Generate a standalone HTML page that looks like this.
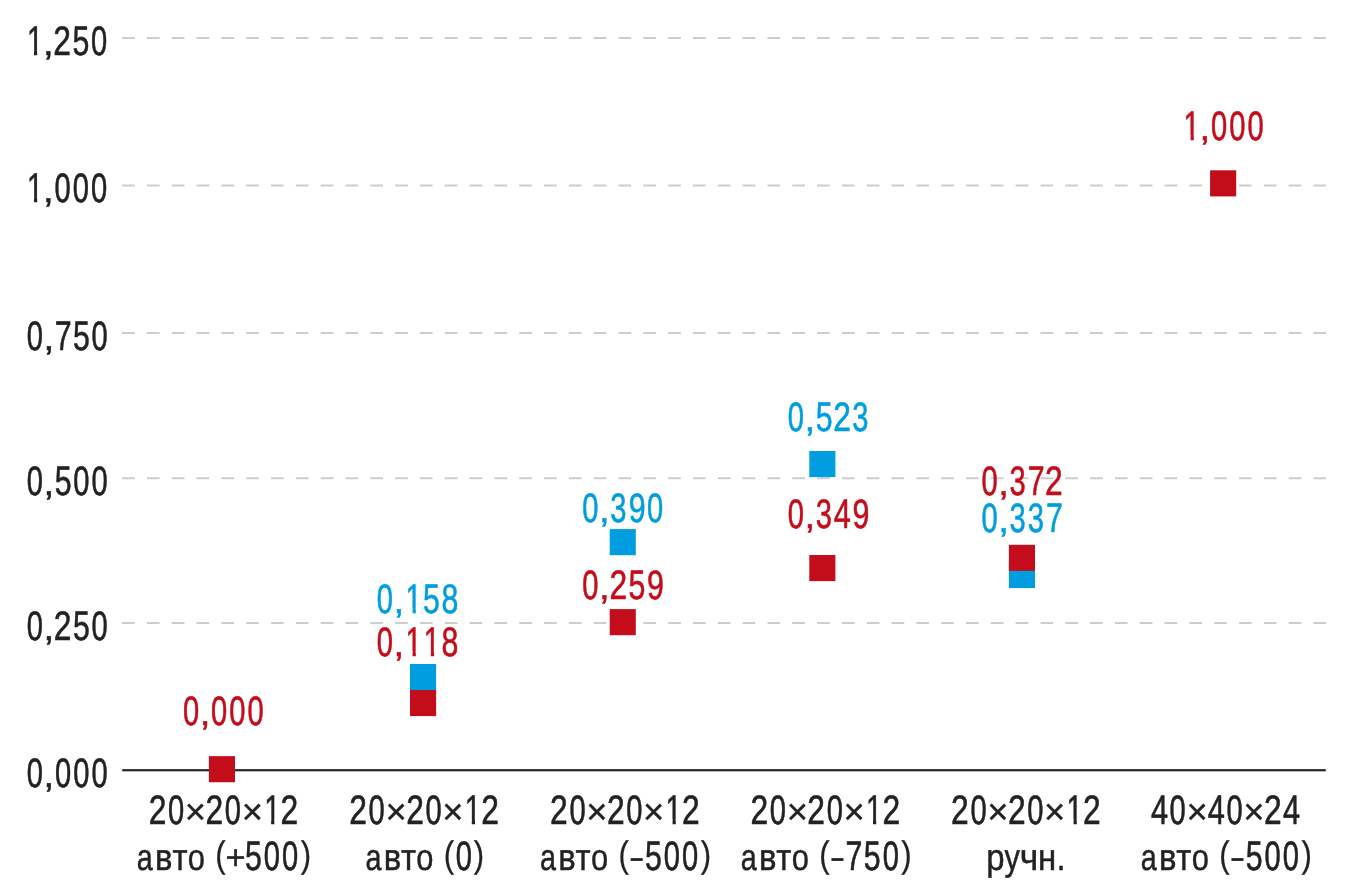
<!DOCTYPE html><html><head><meta charset="utf-8"><style>html,body{margin:0;padding:0;background:#fff;overflow:hidden}svg{display:block}text{font-family:"Liberation Sans",sans-serif;stroke-linejoin:miter;text-rendering:geometricPrecision}</style></head><body><svg style="will-change:transform" width="1350" height="892" viewBox="0 0 1350 892"><defs><clipPath id="c1"><rect x="0" y="-41.25" width="15.03" height="36.25"/><rect x="9.91" y="-5.5" width="4.51" height="8"/></clipPath></defs><line x1="122.1" x2="1326" y1="38" y2="38" stroke="#cdcdcd" stroke-width="2" stroke-dasharray="12.7 12.12"/><line x1="122.1" x2="1326" y1="185.5" y2="185.5" stroke="#cdcdcd" stroke-width="2" stroke-dasharray="12.7 12.12"/><line x1="122.1" x2="1326" y1="333" y2="333" stroke="#cdcdcd" stroke-width="2" stroke-dasharray="12.7 12.12"/><line x1="122.1" x2="1326" y1="478.15" y2="478.15" stroke="#cdcdcd" stroke-width="2" stroke-dasharray="12.7 12.12"/><line x1="122.1" x2="1326" y1="623.1" y2="623.1" stroke="#cdcdcd" stroke-width="2" stroke-dasharray="12.7 12.12"/><rect x="122.2" y="769.15" width="1203.6" height="2.15" fill="#222222"/><rect x="410" y="664" width="26.1" height="26.1" fill="#009de0"/><rect x="410" y="690" width="26.1" height="26.1" fill="#c30d1a"/><rect x="609.7" y="529.1" width="26.1" height="26.1" fill="#009de0"/><rect x="609.7" y="609.1" width="26.1" height="26.1" fill="#c30d1a"/><rect x="809.3" y="451.0" width="26.1" height="26.1" fill="#009de0"/><rect x="809.3" y="555.0" width="26.1" height="26.1" fill="#c30d1a"/><rect x="1008.9" y="562" width="26.1" height="26.1" fill="#009de0"/><rect x="1008.9" y="544.8" width="26.1" height="26.1" fill="#c30d1a"/><rect x="208.9" y="756.15" width="26.1" height="26.1" fill="#c30d1a"/><rect x="1210.1" y="170.3" width="26.1" height="26.1" fill="#c30d1a"/><g><text transform="translate(27.02,55.00) scale(0.705,1)" x="0.00" y="0" font-size="41.25" fill="#222222" stroke="#222222" stroke-width="0.6" vector-effect="non-scaling-stroke" clip-path="url(#c1)">1</text><text transform="translate(42.99,55.00) scale(0.93,0.85)" x="0.00" y="0" font-size="41.25" fill="#222222" stroke="#222222" stroke-width="0.6" vector-effect="non-scaling-stroke">,</text><text transform="translate(53.37,55.00) scale(0.77,1)" x="0.00" y="0" font-size="41.25" fill="#222222" stroke="#222222" stroke-width="0.6" vector-effect="non-scaling-stroke">2</text><text transform="translate(72.53,55.00) scale(0.735,1)" x="0.00" y="0" font-size="41.25" fill="#222222" stroke="#222222" stroke-width="0.6" vector-effect="non-scaling-stroke">5</text><text transform="translate(90.91,55.00) scale(0.705,1)" x="0.00" y="0" font-size="41.25" fill="#222222" stroke="#222222" stroke-width="0.6" vector-effect="non-scaling-stroke">0</text></g>
<g><text transform="translate(27.02,202.00) scale(0.705,1)" x="0.00" y="0" font-size="41.25" fill="#222222" stroke="#222222" stroke-width="0.6" vector-effect="non-scaling-stroke" clip-path="url(#c1)">1</text><text transform="translate(42.99,202.00) scale(0.93,0.85)" x="0.00" y="0" font-size="41.25" fill="#222222" stroke="#222222" stroke-width="0.6" vector-effect="non-scaling-stroke">,</text><text transform="translate(54.41,202.00) scale(0.705,1)" x="0.00 25.89 51.77" y="0" font-size="41.25" fill="#222222" stroke="#222222" stroke-width="0.6" vector-effect="non-scaling-stroke">000</text></g>
<g><text transform="translate(26.75,350.00) scale(0.705,1)" x="0.00" y="0" font-size="41.25" fill="#222222" stroke="#222222" stroke-width="0.6" vector-effect="non-scaling-stroke">0</text><text transform="translate(43.48,350.00) scale(0.93,0.85)" x="0.00" y="0" font-size="41.25" fill="#222222" stroke="#222222" stroke-width="0.6" vector-effect="non-scaling-stroke">,</text><text transform="translate(54.73,350.00) scale(0.735,1)" x="0.00 24.89" y="0" font-size="41.25" fill="#222222" stroke="#222222" stroke-width="0.6" vector-effect="non-scaling-stroke">75</text><text transform="translate(91.40,350.00) scale(0.705,1)" x="0.00" y="0" font-size="41.25" fill="#222222" stroke="#222222" stroke-width="0.6" vector-effect="non-scaling-stroke">0</text></g>
<g><text transform="translate(26.75,495.00) scale(0.705,1)" x="0.00" y="0" font-size="41.25" fill="#222222" stroke="#222222" stroke-width="0.6" vector-effect="non-scaling-stroke">0</text><text transform="translate(43.48,495.00) scale(0.93,0.85)" x="0.00" y="0" font-size="41.25" fill="#222222" stroke="#222222" stroke-width="0.6" vector-effect="non-scaling-stroke">,</text><text transform="translate(54.77,495.00) scale(0.735,1)" x="0.00" y="0" font-size="41.25" fill="#222222" stroke="#222222" stroke-width="0.6" vector-effect="non-scaling-stroke">5</text><text transform="translate(73.15,495.00) scale(0.705,1)" x="0.00 25.89" y="0" font-size="41.25" fill="#222222" stroke="#222222" stroke-width="0.6" vector-effect="non-scaling-stroke">00</text></g>
<g><text transform="translate(26.75,640.00) scale(0.705,1)" x="0.00" y="0" font-size="41.25" fill="#222222" stroke="#222222" stroke-width="0.6" vector-effect="non-scaling-stroke">0</text><text transform="translate(43.48,640.00) scale(0.93,0.85)" x="0.00" y="0" font-size="41.25" fill="#222222" stroke="#222222" stroke-width="0.6" vector-effect="non-scaling-stroke">,</text><text transform="translate(53.86,640.00) scale(0.77,1)" x="0.00" y="0" font-size="41.25" fill="#222222" stroke="#222222" stroke-width="0.6" vector-effect="non-scaling-stroke">2</text><text transform="translate(73.02,640.00) scale(0.735,1)" x="0.00" y="0" font-size="41.25" fill="#222222" stroke="#222222" stroke-width="0.6" vector-effect="non-scaling-stroke">5</text><text transform="translate(91.40,640.00) scale(0.705,1)" x="0.00" y="0" font-size="41.25" fill="#222222" stroke="#222222" stroke-width="0.6" vector-effect="non-scaling-stroke">0</text></g>
<g><text transform="translate(26.75,787.00) scale(0.705,1)" x="0.00" y="0" font-size="41.25" fill="#222222" stroke="#222222" stroke-width="0.6" vector-effect="non-scaling-stroke">0</text><text transform="translate(43.48,787.00) scale(0.93,0.85)" x="0.00" y="0" font-size="41.25" fill="#222222" stroke="#222222" stroke-width="0.6" vector-effect="non-scaling-stroke">,</text><text transform="translate(54.90,787.00) scale(0.705,1)" x="0.00 25.89 51.77" y="0" font-size="41.25" fill="#222222" stroke="#222222" stroke-width="0.6" vector-effect="non-scaling-stroke">000</text></g>
<g><text transform="translate(182.91,725.00) scale(0.705,1)" x="0.00" y="0" font-size="41.25" fill="#c30d1a" stroke="#c30d1a" stroke-width="0.6" vector-effect="non-scaling-stroke">0</text><text transform="translate(199.64,725.00) scale(0.93,0.85)" x="0.00" y="0" font-size="41.25" fill="#c30d1a" stroke="#c30d1a" stroke-width="0.6" vector-effect="non-scaling-stroke">,</text><text transform="translate(211.06,725.00) scale(0.705,1)" x="0.00 25.89 51.77" y="0" font-size="41.25" fill="#c30d1a" stroke="#c30d1a" stroke-width="0.6" vector-effect="non-scaling-stroke">000</text></g>
<g><text transform="translate(376.71,613.00) scale(0.705,1)" x="0.00" y="0" font-size="41.25" fill="#009de0" stroke="#009de0" stroke-width="0.6" vector-effect="non-scaling-stroke">0</text><text transform="translate(393.44,613.00) scale(0.93,0.85)" x="0.00" y="0" font-size="41.25" fill="#009de0" stroke="#009de0" stroke-width="0.6" vector-effect="non-scaling-stroke">,</text><text transform="translate(405.62,613.00) scale(0.705,1)" x="0.00" y="0" font-size="41.25" fill="#009de0" stroke="#009de0" stroke-width="0.6" vector-effect="non-scaling-stroke" clip-path="url(#c1)">1</text><text transform="translate(422.98,613.00) scale(0.735,1)" x="0.00 25.12" y="0" font-size="41.25" fill="#009de0" stroke="#009de0" stroke-width="0.6" vector-effect="non-scaling-stroke">58</text></g>
<g><text transform="translate(376.71,656.00) scale(0.705,1)" x="0.00" y="0" font-size="41.25" fill="#c30d1a" stroke="#c30d1a" stroke-width="0.6" vector-effect="non-scaling-stroke">0</text><text transform="translate(393.44,656.00) scale(0.93,0.85)" x="0.00" y="0" font-size="41.25" fill="#c30d1a" stroke="#c30d1a" stroke-width="0.6" vector-effect="non-scaling-stroke">,</text><text transform="translate(405.62,656.00) scale(0.705,1)" x="0.00" y="0" font-size="41.25" fill="#c30d1a" stroke="#c30d1a" stroke-width="0.6" vector-effect="non-scaling-stroke" clip-path="url(#c1)">1</text><text transform="translate(423.87,656.00) scale(0.705,1)" x="0.00" y="0" font-size="41.25" fill="#c30d1a" stroke="#c30d1a" stroke-width="0.6" vector-effect="non-scaling-stroke" clip-path="url(#c1)">1</text><text transform="translate(441.44,656.00) scale(0.735,1)" x="0.00" y="0" font-size="41.25" fill="#c30d1a" stroke="#c30d1a" stroke-width="0.6" vector-effect="non-scaling-stroke">8</text></g>
<g><text transform="translate(582.31,522.00) scale(0.705,1)" x="0.00" y="0" font-size="41.25" fill="#009de0" stroke="#009de0" stroke-width="0.6" vector-effect="non-scaling-stroke">0</text><text transform="translate(599.04,522.00) scale(0.93,0.85)" x="0.00" y="0" font-size="41.25" fill="#009de0" stroke="#009de0" stroke-width="0.6" vector-effect="non-scaling-stroke">,</text><text transform="translate(610.37,522.00) scale(0.705,1)" x="0.00" y="0" font-size="41.25" fill="#009de0" stroke="#009de0" stroke-width="0.6" vector-effect="non-scaling-stroke">3</text><text transform="translate(628.79,522.00) scale(0.735,1)" x="0.00" y="0" font-size="41.25" fill="#009de0" stroke="#009de0" stroke-width="0.6" vector-effect="non-scaling-stroke">9</text><text transform="translate(646.96,522.00) scale(0.705,1)" x="0.00" y="0" font-size="41.25" fill="#009de0" stroke="#009de0" stroke-width="0.6" vector-effect="non-scaling-stroke">0</text></g>
<g><text transform="translate(582.31,599.00) scale(0.705,1)" x="0.00" y="0" font-size="41.25" fill="#c30d1a" stroke="#c30d1a" stroke-width="0.6" vector-effect="non-scaling-stroke">0</text><text transform="translate(599.04,599.00) scale(0.93,0.85)" x="0.00" y="0" font-size="41.25" fill="#c30d1a" stroke="#c30d1a" stroke-width="0.6" vector-effect="non-scaling-stroke">,</text><text transform="translate(609.42,599.00) scale(0.77,1)" x="0.00" y="0" font-size="41.25" fill="#c30d1a" stroke="#c30d1a" stroke-width="0.6" vector-effect="non-scaling-stroke">2</text><text transform="translate(628.58,599.00) scale(0.735,1)" x="0.00 25.12" y="0" font-size="41.25" fill="#c30d1a" stroke="#c30d1a" stroke-width="0.6" vector-effect="non-scaling-stroke">59</text></g>
<g><text transform="translate(787.81,431.00) scale(0.705,1)" x="0.00" y="0" font-size="41.25" fill="#009de0" stroke="#009de0" stroke-width="0.6" vector-effect="non-scaling-stroke">0</text><text transform="translate(804.54,431.00) scale(0.93,0.85)" x="0.00" y="0" font-size="41.25" fill="#009de0" stroke="#009de0" stroke-width="0.6" vector-effect="non-scaling-stroke">,</text><text transform="translate(815.83,431.00) scale(0.735,1)" x="0.00" y="0" font-size="41.25" fill="#009de0" stroke="#009de0" stroke-width="0.6" vector-effect="non-scaling-stroke">5</text><text transform="translate(833.17,431.00) scale(0.77,1)" x="0.00" y="0" font-size="41.25" fill="#009de0" stroke="#009de0" stroke-width="0.6" vector-effect="non-scaling-stroke">2</text><text transform="translate(852.37,431.00) scale(0.705,1)" x="0.00" y="0" font-size="41.25" fill="#009de0" stroke="#009de0" stroke-width="0.6" vector-effect="non-scaling-stroke">3</text></g>
<g><text transform="translate(787.81,528.00) scale(0.705,1)" x="0.00" y="0" font-size="41.25" fill="#c30d1a" stroke="#c30d1a" stroke-width="0.6" vector-effect="non-scaling-stroke">0</text><text transform="translate(804.54,528.00) scale(0.93,0.85)" x="0.00" y="0" font-size="41.25" fill="#c30d1a" stroke="#c30d1a" stroke-width="0.6" vector-effect="non-scaling-stroke">,</text><text transform="translate(815.87,528.00) scale(0.705,1)" x="0.00" y="0" font-size="41.25" fill="#c30d1a" stroke="#c30d1a" stroke-width="0.6" vector-effect="non-scaling-stroke">3</text><text transform="translate(833.79,528.00) scale(0.745,1)" x="0.00" y="0" font-size="41.25" fill="#c30d1a" stroke="#c30d1a" stroke-width="0.6" vector-effect="non-scaling-stroke">4</text><text transform="translate(852.54,528.00) scale(0.735,1)" x="0.00" y="0" font-size="41.25" fill="#c30d1a" stroke="#c30d1a" stroke-width="0.6" vector-effect="non-scaling-stroke">9</text></g>
<g><text transform="translate(981.41,495.00) scale(0.705,1)" x="0.00" y="0" font-size="41.25" fill="#c30d1a" stroke="#c30d1a" stroke-width="0.6" vector-effect="non-scaling-stroke">0</text><text transform="translate(998.14,495.00) scale(0.93,0.85)" x="0.00" y="0" font-size="41.25" fill="#c30d1a" stroke="#c30d1a" stroke-width="0.6" vector-effect="non-scaling-stroke">,</text><text transform="translate(1009.47,495.00) scale(0.705,1)" x="0.00" y="0" font-size="41.25" fill="#c30d1a" stroke="#c30d1a" stroke-width="0.6" vector-effect="non-scaling-stroke">3</text><text transform="translate(1027.64,495.00) scale(0.735,1)" x="0.00" y="0" font-size="41.25" fill="#c30d1a" stroke="#c30d1a" stroke-width="0.6" vector-effect="non-scaling-stroke">7</text><text transform="translate(1045.02,495.00) scale(0.77,1)" x="0.00" y="0" font-size="41.25" fill="#c30d1a" stroke="#c30d1a" stroke-width="0.6" vector-effect="non-scaling-stroke">2</text></g>
<g><text transform="translate(981.41,532.00) scale(0.705,1)" x="0.00" y="0" font-size="41.25" fill="#009de0" stroke="#009de0" stroke-width="0.6" vector-effect="non-scaling-stroke">0</text><text transform="translate(998.14,532.00) scale(0.93,0.85)" x="0.00" y="0" font-size="41.25" fill="#009de0" stroke="#009de0" stroke-width="0.6" vector-effect="non-scaling-stroke">,</text><text transform="translate(1009.47,532.00) scale(0.705,1)" x="0.00 25.89" y="0" font-size="41.25" fill="#009de0" stroke="#009de0" stroke-width="0.6" vector-effect="non-scaling-stroke">33</text><text transform="translate(1045.89,532.00) scale(0.735,1)" x="0.00" y="0" font-size="41.25" fill="#009de0" stroke="#009de0" stroke-width="0.6" vector-effect="non-scaling-stroke">7</text></g>
<g><text transform="translate(1183.62,140.00) scale(0.705,1)" x="0.00" y="0" font-size="41.25" fill="#c30d1a" stroke="#c30d1a" stroke-width="0.6" vector-effect="non-scaling-stroke" clip-path="url(#c1)">1</text><text transform="translate(1199.59,140.00) scale(0.93,0.85)" x="0.00" y="0" font-size="41.25" fill="#c30d1a" stroke="#c30d1a" stroke-width="0.6" vector-effect="non-scaling-stroke">,</text><text transform="translate(1211.01,140.00) scale(0.705,1)" x="0.00 25.89 51.77" y="0" font-size="41.25" fill="#c30d1a" stroke="#c30d1a" stroke-width="0.6" vector-effect="non-scaling-stroke">000</text></g>
<g><text transform="translate(148.63,824.00) scale(0.77,1)" x="0.00" y="0" font-size="41.25" fill="#222222" stroke="#222222" stroke-width="0.6" vector-effect="non-scaling-stroke">2</text><text transform="translate(167.92,824.00) scale(0.705,1)" x="0.00" y="0" font-size="41.25" fill="#222222" stroke="#222222" stroke-width="0.6" vector-effect="non-scaling-stroke">0</text><text transform="translate(184.80,824.00) scale(1.0,1)" x="0.00" y="0" font-size="36.4" fill="#222222" stroke="#222222" stroke-width="0.35" vector-effect="non-scaling-stroke">×</text><text transform="translate(205.49,824.00) scale(0.77,1)" x="0.00" y="0" font-size="41.25" fill="#222222" stroke="#222222" stroke-width="0.6" vector-effect="non-scaling-stroke">2</text><text transform="translate(224.78,824.00) scale(0.705,1)" x="0.00" y="0" font-size="41.25" fill="#222222" stroke="#222222" stroke-width="0.6" vector-effect="non-scaling-stroke">0</text><text transform="translate(241.66,824.00) scale(1.0,1)" x="0.00" y="0" font-size="36.4" fill="#222222" stroke="#222222" stroke-width="0.35" vector-effect="non-scaling-stroke">×</text><text transform="translate(264.15,824.00) scale(0.705,1)" x="0.00" y="0" font-size="41.25" fill="#222222" stroke="#222222" stroke-width="0.6" vector-effect="non-scaling-stroke" clip-path="url(#c1)">1</text><text transform="translate(280.60,824.00) scale(0.77,1)" x="0.00" y="0" font-size="41.25" fill="#222222" stroke="#222222" stroke-width="0.6" vector-effect="non-scaling-stroke">2</text></g>
<g><text transform="translate(349.29,824.00) scale(0.77,1)" x="0.00" y="0" font-size="41.25" fill="#222222" stroke="#222222" stroke-width="0.6" vector-effect="non-scaling-stroke">2</text><text transform="translate(368.58,824.00) scale(0.705,1)" x="0.00" y="0" font-size="41.25" fill="#222222" stroke="#222222" stroke-width="0.6" vector-effect="non-scaling-stroke">0</text><text transform="translate(385.46,824.00) scale(1.0,1)" x="0.00" y="0" font-size="36.4" fill="#222222" stroke="#222222" stroke-width="0.35" vector-effect="non-scaling-stroke">×</text><text transform="translate(406.15,824.00) scale(0.77,1)" x="0.00" y="0" font-size="41.25" fill="#222222" stroke="#222222" stroke-width="0.6" vector-effect="non-scaling-stroke">2</text><text transform="translate(425.44,824.00) scale(0.705,1)" x="0.00" y="0" font-size="41.25" fill="#222222" stroke="#222222" stroke-width="0.6" vector-effect="non-scaling-stroke">0</text><text transform="translate(442.32,824.00) scale(1.0,1)" x="0.00" y="0" font-size="36.4" fill="#222222" stroke="#222222" stroke-width="0.35" vector-effect="non-scaling-stroke">×</text><text transform="translate(464.81,824.00) scale(0.705,1)" x="0.00" y="0" font-size="41.25" fill="#222222" stroke="#222222" stroke-width="0.6" vector-effect="non-scaling-stroke" clip-path="url(#c1)">1</text><text transform="translate(481.26,824.00) scale(0.77,1)" x="0.00" y="0" font-size="41.25" fill="#222222" stroke="#222222" stroke-width="0.6" vector-effect="non-scaling-stroke">2</text></g>
<g><text transform="translate(550.09,824.00) scale(0.77,1)" x="0.00" y="0" font-size="41.25" fill="#222222" stroke="#222222" stroke-width="0.6" vector-effect="non-scaling-stroke">2</text><text transform="translate(569.38,824.00) scale(0.705,1)" x="0.00" y="0" font-size="41.25" fill="#222222" stroke="#222222" stroke-width="0.6" vector-effect="non-scaling-stroke">0</text><text transform="translate(586.26,824.00) scale(1.0,1)" x="0.00" y="0" font-size="36.4" fill="#222222" stroke="#222222" stroke-width="0.35" vector-effect="non-scaling-stroke">×</text><text transform="translate(606.95,824.00) scale(0.77,1)" x="0.00" y="0" font-size="41.25" fill="#222222" stroke="#222222" stroke-width="0.6" vector-effect="non-scaling-stroke">2</text><text transform="translate(626.24,824.00) scale(0.705,1)" x="0.00" y="0" font-size="41.25" fill="#222222" stroke="#222222" stroke-width="0.6" vector-effect="non-scaling-stroke">0</text><text transform="translate(643.12,824.00) scale(1.0,1)" x="0.00" y="0" font-size="36.4" fill="#222222" stroke="#222222" stroke-width="0.35" vector-effect="non-scaling-stroke">×</text><text transform="translate(665.61,824.00) scale(0.705,1)" x="0.00" y="0" font-size="41.25" fill="#222222" stroke="#222222" stroke-width="0.6" vector-effect="non-scaling-stroke" clip-path="url(#c1)">1</text><text transform="translate(682.06,824.00) scale(0.77,1)" x="0.00" y="0" font-size="41.25" fill="#222222" stroke="#222222" stroke-width="0.6" vector-effect="non-scaling-stroke">2</text></g>
<g><text transform="translate(750.49,824.00) scale(0.77,1)" x="0.00" y="0" font-size="41.25" fill="#222222" stroke="#222222" stroke-width="0.6" vector-effect="non-scaling-stroke">2</text><text transform="translate(769.78,824.00) scale(0.705,1)" x="0.00" y="0" font-size="41.25" fill="#222222" stroke="#222222" stroke-width="0.6" vector-effect="non-scaling-stroke">0</text><text transform="translate(786.66,824.00) scale(1.0,1)" x="0.00" y="0" font-size="36.4" fill="#222222" stroke="#222222" stroke-width="0.35" vector-effect="non-scaling-stroke">×</text><text transform="translate(807.35,824.00) scale(0.77,1)" x="0.00" y="0" font-size="41.25" fill="#222222" stroke="#222222" stroke-width="0.6" vector-effect="non-scaling-stroke">2</text><text transform="translate(826.64,824.00) scale(0.705,1)" x="0.00" y="0" font-size="41.25" fill="#222222" stroke="#222222" stroke-width="0.6" vector-effect="non-scaling-stroke">0</text><text transform="translate(843.52,824.00) scale(1.0,1)" x="0.00" y="0" font-size="36.4" fill="#222222" stroke="#222222" stroke-width="0.35" vector-effect="non-scaling-stroke">×</text><text transform="translate(866.01,824.00) scale(0.705,1)" x="0.00" y="0" font-size="41.25" fill="#222222" stroke="#222222" stroke-width="0.6" vector-effect="non-scaling-stroke" clip-path="url(#c1)">1</text><text transform="translate(882.46,824.00) scale(0.77,1)" x="0.00" y="0" font-size="41.25" fill="#222222" stroke="#222222" stroke-width="0.6" vector-effect="non-scaling-stroke">2</text></g>
<g><text transform="translate(951.09,824.00) scale(0.77,1)" x="0.00" y="0" font-size="41.25" fill="#222222" stroke="#222222" stroke-width="0.6" vector-effect="non-scaling-stroke">2</text><text transform="translate(970.38,824.00) scale(0.705,1)" x="0.00" y="0" font-size="41.25" fill="#222222" stroke="#222222" stroke-width="0.6" vector-effect="non-scaling-stroke">0</text><text transform="translate(987.26,824.00) scale(1.0,1)" x="0.00" y="0" font-size="36.4" fill="#222222" stroke="#222222" stroke-width="0.35" vector-effect="non-scaling-stroke">×</text><text transform="translate(1007.95,824.00) scale(0.77,1)" x="0.00" y="0" font-size="41.25" fill="#222222" stroke="#222222" stroke-width="0.6" vector-effect="non-scaling-stroke">2</text><text transform="translate(1027.24,824.00) scale(0.705,1)" x="0.00" y="0" font-size="41.25" fill="#222222" stroke="#222222" stroke-width="0.6" vector-effect="non-scaling-stroke">0</text><text transform="translate(1044.12,824.00) scale(1.0,1)" x="0.00" y="0" font-size="36.4" fill="#222222" stroke="#222222" stroke-width="0.35" vector-effect="non-scaling-stroke">×</text><text transform="translate(1066.61,824.00) scale(0.705,1)" x="0.00" y="0" font-size="41.25" fill="#222222" stroke="#222222" stroke-width="0.6" vector-effect="non-scaling-stroke" clip-path="url(#c1)">1</text><text transform="translate(1083.06,824.00) scale(0.77,1)" x="0.00" y="0" font-size="41.25" fill="#222222" stroke="#222222" stroke-width="0.6" vector-effect="non-scaling-stroke">2</text></g>
<g><text transform="translate(1150.94,824.00) scale(0.745,1)" x="0.00" y="0" font-size="41.25" fill="#222222" stroke="#222222" stroke-width="0.6" vector-effect="non-scaling-stroke">4</text><text transform="translate(1169.61,824.00) scale(0.705,1)" x="0.00" y="0" font-size="41.25" fill="#222222" stroke="#222222" stroke-width="0.6" vector-effect="non-scaling-stroke">0</text><text transform="translate(1186.49,824.00) scale(1.0,1)" x="0.00" y="0" font-size="36.4" fill="#222222" stroke="#222222" stroke-width="0.35" vector-effect="non-scaling-stroke">×</text><text transform="translate(1207.80,824.00) scale(0.745,1)" x="0.00" y="0" font-size="41.25" fill="#222222" stroke="#222222" stroke-width="0.6" vector-effect="non-scaling-stroke">4</text><text transform="translate(1226.47,824.00) scale(0.705,1)" x="0.00" y="0" font-size="41.25" fill="#222222" stroke="#222222" stroke-width="0.6" vector-effect="non-scaling-stroke">0</text><text transform="translate(1243.35,824.00) scale(1.0,1)" x="0.00" y="0" font-size="36.4" fill="#222222" stroke="#222222" stroke-width="0.35" vector-effect="non-scaling-stroke">×</text><text transform="translate(1264.04,824.00) scale(0.77,1)" x="0.00" y="0" font-size="41.25" fill="#222222" stroke="#222222" stroke-width="0.6" vector-effect="non-scaling-stroke">2</text><text transform="translate(1282.91,824.00) scale(0.745,1)" x="0.00" y="0" font-size="41.25" fill="#222222" stroke="#222222" stroke-width="0.6" vector-effect="non-scaling-stroke">4</text></g>
<g><text transform="translate(136.87,870.00) scale(0.77,1)" x="0.00" y="0" font-size="37.4" fill="#222222" stroke="#222222" stroke-width="0.45" vector-effect="non-scaling-stroke">а</text><text transform="translate(155.09,870.00) scale(0.88,1)" x="0.00 19.76" y="0" font-size="37.4" fill="#222222" stroke="#222222" stroke-width="0.45" vector-effect="non-scaling-stroke">вт</text><text transform="translate(187.81,870.00) scale(0.825,1)" x="0.00" y="0" font-size="37.4" fill="#222222" stroke="#222222" stroke-width="0.45" vector-effect="non-scaling-stroke">о</text><text transform="translate(215.32,867.00) scale(0.76,0.902)" x="0.00" y="0" font-size="41.0" fill="#222222" stroke="#222222" stroke-width="0.3" vector-effect="non-scaling-stroke">(</text><text transform="translate(225.48,869.00) scale(1.0,1)" x="0.00" y="0" font-size="34.4" fill="#222222" stroke="#222222" stroke-width="0.4" vector-effect="non-scaling-stroke">+</text><text transform="translate(244.93,870.00) scale(0.735,1)" x="0.00" y="0" font-size="41.25" fill="#222222" stroke="#222222" stroke-width="0.6" vector-effect="non-scaling-stroke">5</text><text transform="translate(263.81,870.00) scale(0.705,1)" x="0.00 25.89" y="0" font-size="41.25" fill="#222222" stroke="#222222" stroke-width="0.6" vector-effect="non-scaling-stroke">00</text><text transform="translate(300.65,867.00) scale(0.76,0.902)" x="0.00" y="0" font-size="41.0" fill="#222222" stroke="#222222" stroke-width="0.3" vector-effect="non-scaling-stroke">)</text></g>
<g><text transform="translate(365.42,870.00) scale(0.77,1)" x="0.00" y="0" font-size="37.4" fill="#222222" stroke="#222222" stroke-width="0.45" vector-effect="non-scaling-stroke">а</text><text transform="translate(383.64,870.00) scale(0.88,1)" x="0.00 19.76" y="0" font-size="37.4" fill="#222222" stroke="#222222" stroke-width="0.45" vector-effect="non-scaling-stroke">вт</text><text transform="translate(416.36,870.00) scale(0.825,1)" x="0.00" y="0" font-size="37.4" fill="#222222" stroke="#222222" stroke-width="0.45" vector-effect="non-scaling-stroke">о</text><text transform="translate(443.87,867.00) scale(0.76,0.902)" x="0.00" y="0" font-size="41.0" fill="#222222" stroke="#222222" stroke-width="0.3" vector-effect="non-scaling-stroke">(</text><text transform="translate(455.76,870.00) scale(0.705,1)" x="0.00" y="0" font-size="41.25" fill="#222222" stroke="#222222" stroke-width="0.6" vector-effect="non-scaling-stroke">0</text><text transform="translate(473.75,867.00) scale(0.76,0.902)" x="0.00" y="0" font-size="41.0" fill="#222222" stroke="#222222" stroke-width="0.3" vector-effect="non-scaling-stroke">)</text></g>
<g><text transform="translate(539.97,870.00) scale(0.77,1)" x="0.00" y="0" font-size="37.4" fill="#222222" stroke="#222222" stroke-width="0.45" vector-effect="non-scaling-stroke">а</text><text transform="translate(558.19,870.00) scale(0.88,1)" x="0.00 19.76" y="0" font-size="37.4" fill="#222222" stroke="#222222" stroke-width="0.45" vector-effect="non-scaling-stroke">вт</text><text transform="translate(590.91,870.00) scale(0.825,1)" x="0.00" y="0" font-size="37.4" fill="#222222" stroke="#222222" stroke-width="0.45" vector-effect="non-scaling-stroke">о</text><text transform="translate(618.42,867.00) scale(0.76,0.902)" x="0.00" y="0" font-size="41.0" fill="#222222" stroke="#222222" stroke-width="0.3" vector-effect="non-scaling-stroke">(</text><text transform="translate(628.55,869.00) scale(1.2,0.87)" x="0.00" y="0" font-size="41.0" fill="#222222">-</text><text transform="translate(644.93,870.00) scale(0.735,1)" x="0.00" y="0" font-size="41.25" fill="#222222" stroke="#222222" stroke-width="0.6" vector-effect="non-scaling-stroke">5</text><text transform="translate(663.81,870.00) scale(0.705,1)" x="0.00 25.74" y="0" font-size="41.25" fill="#222222" stroke="#222222" stroke-width="0.6" vector-effect="non-scaling-stroke">00</text><text transform="translate(700.65,867.00) scale(0.76,0.902)" x="0.00" y="0" font-size="41.0" fill="#222222" stroke="#222222" stroke-width="0.3" vector-effect="non-scaling-stroke">)</text></g>
<g><text transform="translate(740.77,870.00) scale(0.77,1)" x="0.00" y="0" font-size="37.4" fill="#222222" stroke="#222222" stroke-width="0.45" vector-effect="non-scaling-stroke">а</text><text transform="translate(758.99,870.00) scale(0.88,1)" x="0.00 19.76" y="0" font-size="37.4" fill="#222222" stroke="#222222" stroke-width="0.45" vector-effect="non-scaling-stroke">вт</text><text transform="translate(791.71,870.00) scale(0.825,1)" x="0.00" y="0" font-size="37.4" fill="#222222" stroke="#222222" stroke-width="0.45" vector-effect="non-scaling-stroke">о</text><text transform="translate(819.22,867.00) scale(0.76,0.902)" x="0.00" y="0" font-size="41.0" fill="#222222" stroke="#222222" stroke-width="0.3" vector-effect="non-scaling-stroke">(</text><text transform="translate(829.30,869.00) scale(1.2,0.87)" x="0.00" y="0" font-size="41.0" fill="#222222">-</text><text transform="translate(845.54,870.00) scale(0.735,1)" x="0.00 24.75" y="0" font-size="41.25" fill="#222222" stroke="#222222" stroke-width="0.6" vector-effect="non-scaling-stroke">75</text><text transform="translate(882.66,870.00) scale(0.705,1)" x="0.00" y="0" font-size="41.25" fill="#222222" stroke="#222222" stroke-width="0.6" vector-effect="non-scaling-stroke">0</text><text transform="translate(901.35,867.00) scale(0.76,0.902)" x="0.00" y="0" font-size="41.0" fill="#222222" stroke="#222222" stroke-width="0.3" vector-effect="non-scaling-stroke">)</text></g>
<g><text transform="translate(1140.77,870.00) scale(0.77,1)" x="0.00" y="0" font-size="37.4" fill="#222222" stroke="#222222" stroke-width="0.45" vector-effect="non-scaling-stroke">а</text><text transform="translate(1158.99,870.00) scale(0.88,1)" x="0.00 19.76" y="0" font-size="37.4" fill="#222222" stroke="#222222" stroke-width="0.45" vector-effect="non-scaling-stroke">вт</text><text transform="translate(1191.71,870.00) scale(0.825,1)" x="0.00" y="0" font-size="37.4" fill="#222222" stroke="#222222" stroke-width="0.45" vector-effect="non-scaling-stroke">о</text><text transform="translate(1219.22,867.00) scale(0.76,0.902)" x="0.00" y="0" font-size="41.0" fill="#222222" stroke="#222222" stroke-width="0.3" vector-effect="non-scaling-stroke">(</text><text transform="translate(1229.35,869.00) scale(1.2,0.87)" x="0.00" y="0" font-size="41.0" fill="#222222">-</text><text transform="translate(1245.73,870.00) scale(0.735,1)" x="0.00" y="0" font-size="41.25" fill="#222222" stroke="#222222" stroke-width="0.6" vector-effect="non-scaling-stroke">5</text><text transform="translate(1264.61,870.00) scale(0.705,1)" x="0.00 25.74" y="0" font-size="41.25" fill="#222222" stroke="#222222" stroke-width="0.6" vector-effect="non-scaling-stroke">00</text><text transform="translate(1301.45,867.00) scale(0.76,0.902)" x="0.00" y="0" font-size="41.0" fill="#222222" stroke="#222222" stroke-width="0.3" vector-effect="non-scaling-stroke">)</text></g>
<g><text transform="translate(986.15,870.00) scale(0.88,1)" x="0.00" y="0" font-size="37.4" fill="#222222" stroke="#222222" stroke-width="0.45" vector-effect="non-scaling-stroke">р</text><text transform="translate(1004.61,870.00) scale(0.825,1)" x="0.00" y="0" font-size="37.4" fill="#222222" stroke="#222222" stroke-width="0.45" vector-effect="non-scaling-stroke">у</text><text transform="translate(1019.66,870.00) scale(0.95,1)" x="0.00" y="0" font-size="37.4" fill="#222222" stroke="#222222" stroke-width="0.45" vector-effect="non-scaling-stroke">ч</text><text transform="translate(1038.12,870.00) scale(0.88,1)" x="0.00 20.88" y="0" font-size="37.4" fill="#222222" stroke="#222222" stroke-width="0.45" vector-effect="non-scaling-stroke">н.</text></g>
</svg></body></html>
